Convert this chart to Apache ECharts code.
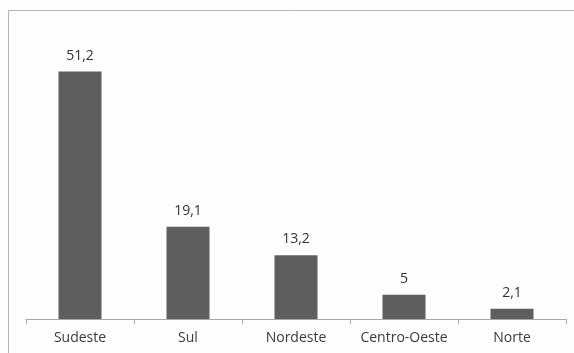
<!DOCTYPE html>
<html lang="pt">
<head>
    <meta charset="UTF-8">
    <title>Regiões</title>
    <script src="https://cdn.jsdelivr.net/npm/echarts@6/dist/echarts.min.js"></script>
    <style>
        html, body { margin: 0; padding: 0; background: #fdfdfd; }
    </style>
</head>
<body>
<div id="main" style="width: 574px;height:353px;"></div>
<script type="text/javascript">
    // dados do gráfico
    var regioes = ['Sudeste', 'Sul', 'Nordeste', 'Centro-Oeste', 'Norte'];
    var valores = [51.2, 19.1, 13.2, 5, 2.1];
    var eixoMax = 60;

    var myChart = echarts.init(document.getElementById('main'));

    var option = {
        backgroundColor: '#fdfdfd',
        animation: false,
        textStyle: { fontFamily: 'Open Sans' },
        grid: { left: 26, right: 8, top: 29, bottom: 34 },
        // moldura cinza (só em cima e à esquerda, como na imagem)
        graphic: [{
            type: 'rect',
            shape: { x: 8.5, y: 10.5, width: 700, height: 500 },
            style: { fill: 'none', stroke: '#b4b4b4', lineWidth: 1 },
            silent: true
        }],
        xAxis: {
            type: 'category',
            data: regioes,
            axisLine: { lineStyle: { color: '#a8a8a8' } },
            axisTick: { show: true, interval: 0, length: 5, lineStyle: { color: '#a8a8a8' } },
            axisLabel: { interval: 0, color: '#3a3a3a', fontSize: 14, margin: 12 }
        },
        yAxis: {
            type: 'value',
            min: 0,
            max: eixoMax,
            show: false
        },
        series: [
            {
                type: 'bar',
                data: valores,
                barWidth: 43,
                itemStyle: { color: '#5e5e5e' },
                label: {
                    show: true,
                    position: 'top',
                    distance: 9,
                    color: '#333',
                    fontSize: 14,
                    formatter: function (p) {
                        return String(p.value).replace('.', ',');
                    }
                }
            }
        ]
    };

    myChart.setOption(option);
</script>
</body>
</html>
